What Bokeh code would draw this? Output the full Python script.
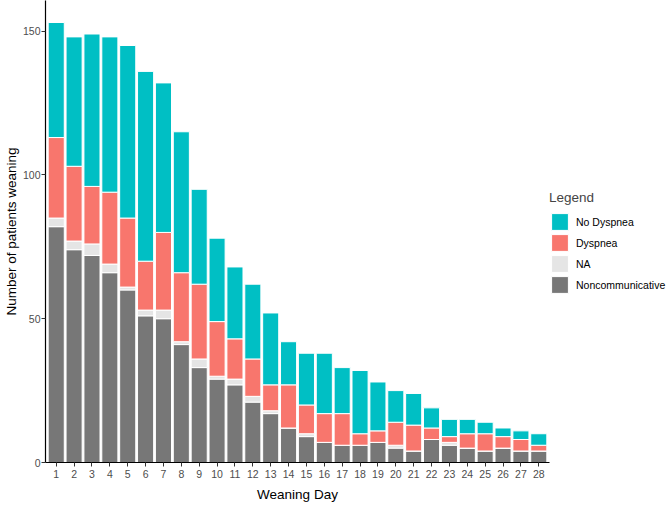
from bokeh.plotting import figure
from bokeh.models import ColumnDataSource, Legend, LegendItem, FixedTicker, Range1d
from bokeh.embed import file_html
from bokeh.resources import INLINE

days = list(range(1, 29))
no_dyspnea = [40, 45, 53, 54, 60, 66, 52, 49, 33, 29, 25, 26, 25, 15, 18, 21, 16, 22, 17, 11, 11, 7, 6, 5, 4, 3, 3, 4]
dyspnea = [28, 26, 20, 25, 24, 17, 27, 24, 26, 19, 14, 13, 9, 15, 10, 10, 11, 4, 4, 8, 9, 4, 2, 5, 6, 4, 4, 2]
na_vals = [3, 3, 4, 3, 1, 2, 3, 1, 3, 1, 2, 2, 1, 0, 1, 0, 0, 0, 0, 1, 0, 0, 1, 0, 0, 0, 0, 0]
noncomm = [82, 74, 72, 66, 60, 51, 50, 41, 33, 29, 27, 21, 17, 12, 9, 7, 6, 6, 7, 5, 4, 8, 6, 5, 4, 5, 4, 4]
y_ticks = [0, 50, 100, 150]
series_labels = ["Noncommunicative", "NA", "Dyspnea", "No Dyspnea"]
series_colors = ["#777777", "#e5e5e5", "#F8766D", "#00BFC4"]

source = ColumnDataSource(dict(day=days, noncomm=noncomm, na=na_vals, dysp=dyspnea, nodysp=no_dyspnea))

FONT = "Liberation Sans"

p = figure(frame_width=504, frame_height=462, output_backend="svg", toolbar_location=None,
           x_range=Range1d(0.4, 28.6), y_range=Range1d(0, 160.65),
           min_border_left=40, min_border_right=0, min_border_top=0, min_border_bottom=46)

rs = p.vbar_stack(["noncomm", "na", "dysp", "nodysp"], x="day", width=0.9, source=source,
                  fill_color=series_colors, line_color="white", line_width=1)

p.xgrid.visible = False
p.ygrid.visible = False
p.outline_line_color = None
p.background_fill_color = "white"
p.border_fill_color = "white"

for ax in (p.xaxis[0], p.yaxis[0]):
    ax.axis_line_color = "black"
    ax.axis_line_width = 1.2
    ax.major_tick_line_color = "#333333"
    ax.major_tick_out = 4
    ax.major_tick_in = 0
    ax.minor_tick_out = 0
    ax.minor_tick_in = 0
    ax.major_label_text_font = FONT
    ax.major_label_text_font_size = "10.5px"
    ax.major_label_text_color = "#4D4D4D"
    ax.axis_label_text_font = FONT
    ax.axis_label_text_font_size = "13.5px"
    ax.axis_label_text_font_style = "normal"
    ax.axis_label_text_color = "black"

p.xaxis[0].ticker = FixedTicker(ticks=days)
p.xaxis[0].axis_label = "Weaning Day"
p.xaxis[0].major_label_standoff = 3
p.xaxis[0].axis_label_standoff = 6

p.yaxis[0].ticker = FixedTicker(ticks=y_ticks)
p.yaxis[0].axis_label = "Number of patients weaning"
p.yaxis[0].major_label_standoff = 1
p.yaxis[0].axis_label_standoff = 1

items = [LegendItem(label=series_labels[i], renderers=[rs[i]]) for i in (3, 2, 1, 0)]
legend = Legend(items=items, location=(0, 167), title="Legend",
                title_text_font=FONT, title_text_font_size="13.5px", title_text_font_style="normal",
                title_standoff=6,
                label_text_font=FONT, label_text_font_size="10.5px", label_text_color="black",
                label_standoff=6, glyph_width=21, glyph_height=21, label_height=21,
                spacing=0, padding=0, margin=0,
                background_fill_alpha=0, border_line_color=None)
p.add_layout(legend, "right")

open("out.html", "w").write(file_html(p, INLINE))
